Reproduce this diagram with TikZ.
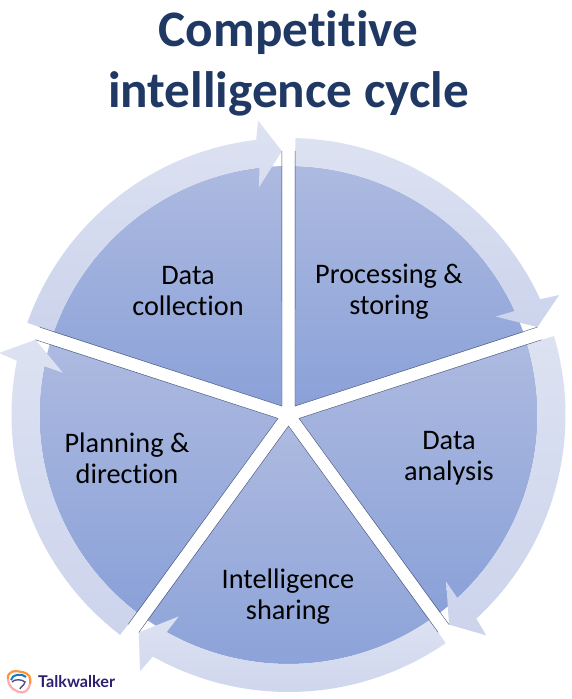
\documentclass[tikz,border=0pt]{standalone}
\usepackage{fontspec}
\setmainfont[Ligatures=CommonOff]{Carlito}
\newfontfamily\logofont{Lato}
\definecolor{titleblue}{HTML}{1F3864}
\definecolor{sectop}{HTML}{ADBAE0}
\definecolor{secbot}{HTML}{8AA1D8}
\definecolor{bandtop}{HTML}{DDE2F2}
\definecolor{bandbot}{HTML}{CCD4EC}
\definecolor{edgeline}{HTML}{4A5478}
\definecolor{logotext}{HTML}{2B2170}
\tikzset{
  x=1pt,y=1pt,
  titletext/.style={font=\fontsize{51.2}{61}\selectfont\bfseries,text=titleblue,align=center,inner sep=0pt},
  seclabel/.style={font=\fontsize{28.3}{31}\selectfont,text=black,align=center,inner sep=0pt},
  sector/.style={top color=sectop,bottom color=secbot,draw=none},
  band/.style={top color=bandtop,bottom color=bandbot,draw=none},
  edge line/.style={draw=edgeline,line width=0.4pt}
}
\begin{document}
\begin{tikzpicture}
\useasboundingbox (0,0) rectangle (572,699);
\fill[white] (0,0) rectangle (572,699);
\begin{scope}[shift={(288.5,284)}]
\foreach \e in {18,-54,-126,-198,90}{
  \pgfmathsetmacro{\s}{\e+72}
  \pgfmathsetmacro{\sa}{\s-1.45}
  \pgfmathsetmacro{\ea}{\e+1.45}
  \pgfmathsetmacro{\m}{\e+36}
  \path[sector] (\m:11) -- (\ea:249) arc[start angle=\ea,end angle=\sa,radius=249] -- cycle;
}
\foreach \e in {18,-54,-126,-198,90}{
  \pgfmathsetmacro{\s}{\e+72}
  \pgfmathsetmacro{\sa}{\s-1.45}
  \pgfmathsetmacro{\ea}{\e+1.45}
  \pgfmathsetmacro{\n}{\e+6.7}
  \pgfmathsetmacro{\wo}{\e+5.9}
  \pgfmathsetmacro{\wi}{\e+7.4}
  \path[band] (\sa:277) arc[start angle=\sa,end angle=\n,radius=277]
    -- (\wo:296) -- (\ea:264) -- (\wi:229.5) -- (\n:249)
    arc[start angle=\n,end angle=\sa,radius=249] -- cycle;
}
\foreach \e in {18,-54,-126,-198,90}{
  \pgfmathsetmacro{\s}{\e+72}
  \pgfmathsetmacro{\sa}{\s-1.45}
  \pgfmathsetmacro{\ea}{\e+1.45}
  \pgfmathsetmacro{\m}{\e+36}
  \draw[edge line] (\sa:264) -- (\m:11) -- (\ea:264);
}
\end{scope}
\node[titletext] (title) at (288.5,636) {Competitive\\intelligence cycle};
\node[seclabel] (collect) at (188,407.5) {Data\\collection};
\node[seclabel] (process) at (389,407.5) {Processing \&\\storing};
\node[seclabel] (analysis) at (449,240.5) {Data\\analysis};
\node[seclabel] (sharing) at (288,102) {Intelligence\\sharing};
\node[seclabel] (planning) at (127,241) {Planning \&\\direction};
% logo
\draw[line width=2.2pt,draw=orange!70!pink] (8,20) .. controls (7,28) and (15,29) .. (22,27) .. controls (30,25) and (31,22) .. (30,15);
\draw[line width=2.2pt,draw=pink!90!red] (30,15) .. controls (29,9) and (24,5) .. (19,7) .. controls (15,9) and (9,10) .. (8,20);
\draw[line width=2pt,draw=cyan!60!blue] (11,19) .. controls (12,25) and (22,26) .. (26,22);
\draw[line width=1.4pt,draw=logotext!80] (12,17) .. controls (14,20) and (22,20) .. (25,17) .. controls (24,13) and (20,12) .. (20,10);
\node[font=\logofont\fontsize{16.2}{18}\selectfont\bfseries,text=logotext,inner sep=0pt,anchor=west] (brand) at (38,17.5) {Talkwalker};
\end{tikzpicture}
\end{document}
